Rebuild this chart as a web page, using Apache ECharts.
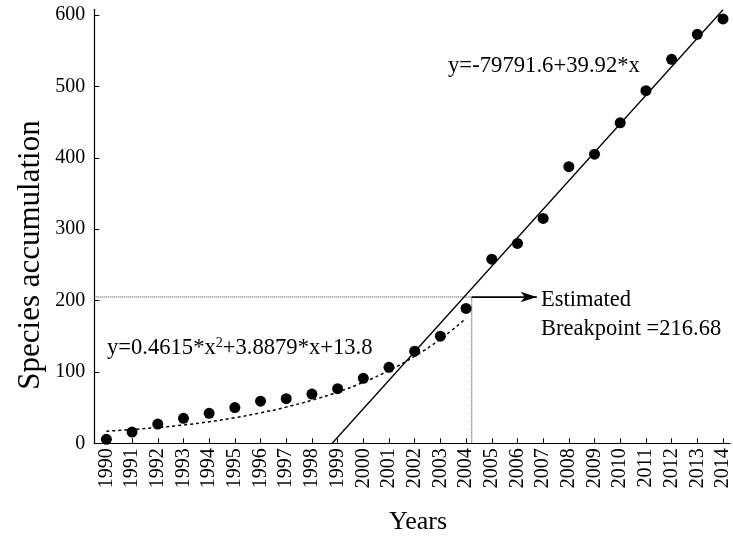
<!DOCTYPE html>
<html>
<head>
<meta charset="utf-8">
<script src="https://cdn.jsdelivr.net/npm/echarts@6/dist/echarts.min.js"></script>
<style>html,body{margin:0;padding:0;background:#fff}#c{width:733px;height:540px}</style>
</head>
<body>
<div id="c"></div>
<script>
const years = [1990,1991,1992,1993,1994,1995,1996,1997,1998,1999,2000,2001,2002,2003,2004,2005,2006,2007,2008,2009,2010,2011,2012,2013,2014];
const species = [5.6,15.8,27,35,42,50,59,62.5,69,76.5,91,106.5,129,150,189,258,280,315,387.5,405,449,494,538,573,594.5];
// dashed quadratic fit curve as drawn, 1990..2004
const quadYears = [1990,1991,1992,1993,1994,1995,1996,1997,1998,1999,2000,2001,2002,2003,2004];
const quadFit = [17,19.3,22.2,25.6,30.2,35.9,42.7,50.7,60.4,71.8,85.5,102,122,146,175];
// linear fit y=-79791.6+39.92*x, end points
const linYears = [1998.79, 2014.0];
const linFit = [0, 607.3];
// breakpoint guide
const breakX = 2004.22;
const breakY = 205;
const arrowEndX = 2006.75;
const yTicks = [0,100,200,300,400,500,600];

const font = '"Liberation Serif","Times New Roman",serif';
const chart = echarts.init(document.getElementById('c'), null, {renderer:'canvas'});
chart.setOption({
  animation:false,
  backgroundColor:'#fff',
  grid:{left:94.3, right:0, top:9.3, bottom:96.7, containLabel:false},
  xAxis:{
    type:'value', min:1989.53, max:2014.28,
    axisLine:{show:true, lineStyle:{color:'#000', width:1.2}},
    axisTick:{show:true, inside:true, length:5, customValues:years, lineStyle:{color:'#000'}},
    axisLabel:{customValues:years, rotate:90, fontFamily:font, fontSize:20, color:'#000', margin:5, formatter:v=>String(v)},
    splitLine:{show:false}
  },
  yAxis:{
    type:'value', min:0, max:608,
    axisLine:{show:true, lineStyle:{color:'#000', width:1.2}},
    axisTick:{show:true, inside:true, length:5, customValues:yTicks, lineStyle:{color:'#000'}},
    axisLabel:{customValues:yTicks, fontFamily:font, fontSize:20, color:'#000', margin:9},
    splitLine:{show:false}
  },
  series:[
    {type:'line', data:[[1989.53,breakY],[breakX,breakY]], symbol:'none', lineStyle:{color:'#333', width:1, type:'dotted'}, z:1},
    {type:'line', data:[[breakX,0],[breakX,breakY]], symbol:'none', lineStyle:{color:'#333', width:1, type:'dotted'}, z:1},
    {type:'line', data:[[breakX,breakY],[arrowEndX,breakY]], symbol:'none', lineStyle:{color:'#000', width:1.2}, z:1,
      markLine:{silent:true, symbol:['none','arrow'], symbolSize:[8,16], label:{show:false},
        lineStyle:{color:'#000', width:1.2, type:'solid'},
        data:[[{coord:[breakX,breakY]},{coord:[arrowEndX,breakY]}]]}},
    {type:'line', data:quadYears.map((y,i)=>[y,quadFit[i]]), smooth:true, symbol:'none', lineStyle:{color:'#000', width:1.5, type:[3,3]}, z:2},
    {type:'line', data:linYears.map((y,i)=>[y,linFit[i]]), symbol:'none', lineStyle:{color:'#000', width:1.3}, z:2},
    {type:'scatter', data:years.map((y,i)=>[y,species[i]]), symbol:'circle', symbolSize:11, itemStyle:{color:'#000', opacity:1}, z:3}
  ],
  graphic:[
    {type:'text', x:31, y:255, rotation:Math.PI/2, style:{text:'Species accumulation', fontFamily:font, fontSize:31, fill:'#000', align:'center', verticalAlign:'middle'}},
    {type:'text', x:418, y:522, style:{text:'Years', fontFamily:font, fontSize:26, fill:'#000', align:'center', verticalAlign:'middle'}},
    {type:'text', x:107, y:348, style:{text:'y=0.4615*x{sup|2}+3.8879*x+13.8', fontFamily:font, fontSize:22.6, fill:'#000', align:'left', verticalAlign:'middle',
      rich:{sup:{fontFamily:font, fontSize:14, fill:'#000', verticalAlign:'top', padding:[0,0,10,0]}}}},
    {type:'text', x:448, y:66, style:{text:'y=-79791.6+39.92*x', fontFamily:font, fontSize:22.7, fill:'#000', align:'left', verticalAlign:'middle'}},
    {type:'text', x:541, y:300, style:{text:'Estimated', fontFamily:font, fontSize:22.5, fill:'#000', align:'left', verticalAlign:'middle'}},
    {type:'text', x:541, y:329, style:{text:'Breakpoint =216.68', fontFamily:font, fontSize:22.5, fill:'#000', align:'left', verticalAlign:'middle'}}
  ]
});
</script>
</body>
</html>
